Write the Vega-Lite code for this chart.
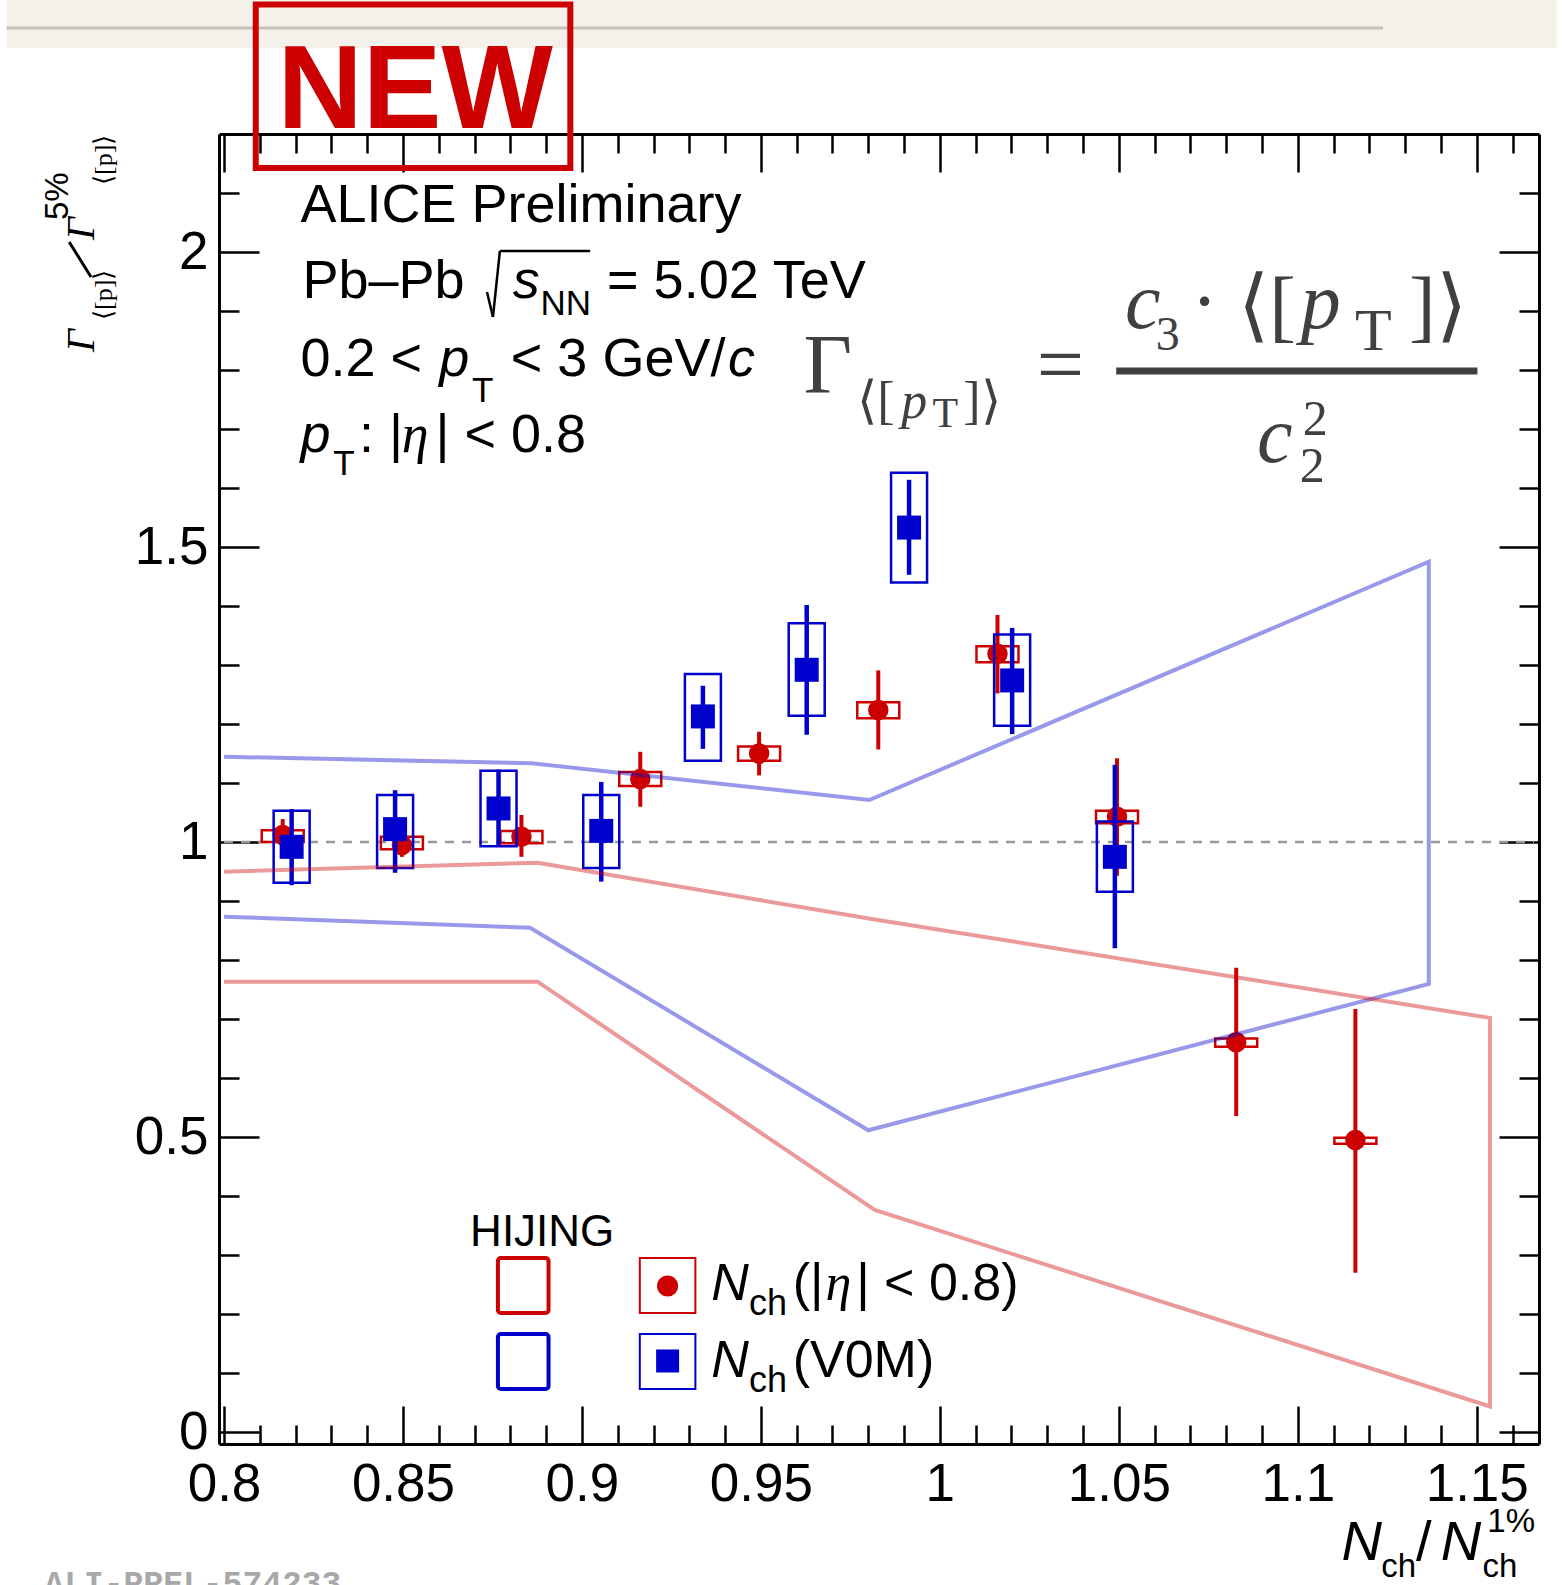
{
"$schema":"https://vega.github.io/schema/vega-lite/v6.json",
"width":1320,"height":1310,
"autosize":{"type":"none"},
"padding":{"left":219,"top":134,"right":23,"bottom":141},
"background":"#ffffff",
"config":{"view":{"stroke":null},"text":{"baseline":"alphabetic"}},
"data":{"values":[{}]},
"datasets":{
"pts":[
{"series":"eta","x":0.8164,"y":1.012,"stat_lo":0.985,"stat_hi":1.039,"sys_lo":1.000,"sys_hi":1.020},
{"series":"eta","x":0.8497,"y":0.995,"stat_lo":0.975,"stat_hi":1.015,"sys_lo":0.988,"sys_hi":1.009},
{"series":"eta","x":0.8831,"y":1.009,"stat_lo":0.975,"stat_hi":1.046,"sys_lo":0.998,"sys_hi":1.019},
{"series":"eta","x":0.9163,"y":1.107,"stat_lo":1.060,"stat_hi":1.153,"sys_lo":1.095,"sys_hi":1.119},
{"series":"eta","x":0.9495,"y":1.150,"stat_lo":1.113,"stat_hi":1.187,"sys_lo":1.138,"sys_hi":1.162},
{"series":"eta","x":0.9828,"y":1.224,"stat_lo":1.157,"stat_hi":1.291,"sys_lo":1.210,"sys_hi":1.237},
{"series":"eta","x":1.0161,"y":1.319,"stat_lo":1.252,"stat_hi":1.385,"sys_lo":1.305,"sys_hi":1.332},
{"series":"eta","x":1.0495,"y":1.043,"stat_lo":0.943,"stat_hi":1.142,"sys_lo":1.032,"sys_hi":1.053},
{"series":"eta","x":1.0828,"y":0.661,"stat_lo":0.536,"stat_hi":0.787,"sys_lo":0.653,"sys_hi":0.667},
{"series":"eta","x":1.1161,"y":0.495,"stat_lo":0.270,"stat_hi":0.717,"sys_lo":0.489,"sys_hi":0.499},
{"series":"v0m","x":0.8189,"y":0.992,"stat_lo":0.927,"stat_hi":1.056,"sys_lo":0.931,"sys_hi":1.053},
{"series":"v0m","x":0.8478,"y":1.022,"stat_lo":0.948,"stat_hi":1.088,"sys_lo":0.956,"sys_hi":1.080},
{"series":"v0m","x":0.8767,"y":1.057,"stat_lo":0.994,"stat_hi":1.123,"sys_lo":0.993,"sys_hi":1.121},
{"series":"v0m","x":0.9054,"y":1.019,"stat_lo":0.933,"stat_hi":1.102,"sys_lo":0.956,"sys_hi":1.080},
{"series":"v0m","x":0.9338,"y":1.213,"stat_lo":1.158,"stat_hi":1.265,"sys_lo":1.138,"sys_hi":1.285},
{"series":"v0m","x":0.9628,"y":1.292,"stat_lo":1.182,"stat_hi":1.402,"sys_lo":1.214,"sys_hi":1.371},
{"series":"v0m","x":0.9914,"y":1.533,"stat_lo":1.453,"stat_hi":1.614,"sys_lo":1.440,"sys_hi":1.626},
{"series":"v0m","x":1.0202,"y":1.274,"stat_lo":1.183,"stat_hi":1.363,"sys_lo":1.197,"sys_hi":1.352},
{"series":"v0m","x":1.0489,"y":0.975,"stat_lo":0.820,"stat_hi":1.131,"sys_lo":0.916,"sys_hi":1.035}
],
"bands":[
{"band":"blue","ord":0,"x":0.8,"y":1.1447},
{"band":"blue","ord":1,"x":0.886,"y":1.1335},
{"band":"blue","ord":2,"x":0.9803,"y":1.0714},
{"band":"blue","ord":3,"x":1.1366,"y":1.4752},
{"band":"blue","ord":4,"x":1.1366,"y":0.7596},
{"band":"blue","ord":5,"x":0.98,"y":0.5116},
{"band":"blue","ord":6,"x":0.8855,"y":0.855},
{"band":"blue","ord":7,"x":0.8,"y":0.8736},
{"band":"red","ord":0,"x":0.8,"y":0.9499},
{"band":"red","ord":1,"x":0.8876,"y":0.9651},
{"band":"red","ord":2,"x":0.9818,"y":0.869},
{"band":"red","ord":3,"x":1.1537,"y":0.7021},
{"band":"red","ord":4,"x":1.1537,"y":0.0436},
{"band":"red","ord":5,"x":0.9818,"y":0.3766},
{"band":"red","ord":6,"x":0.8876,"y":0.7635},
{"band":"red","ord":7,"x":0.8,"y":0.7635}
]
},
"resolve":{"axis":{"x":"independent","y":"independent"}},
"layer":[
{"mark":{"type":"rect","color":"#f4f1eb"},
 "encoding":{"x":{"datum":0.73928,"type":"quantitative","scale":{"domain":[0.8,1.166],"nice":false,"zero":false},"axis":null},"x2":{"datum":1.17237},"y":{"datum":2.427,"type":"quantitative","scale":{"domain":[-0.02,2.2],"nice":false,"zero":false},"axis":null},"y2":{"datum":2.3457}}},
{"mark":{"type":"rule","color":"#c4c1bb","strokeWidth":3},
 "encoding":{"x":{"datum":0.73928,"type":"quantitative","scale":{"domain":[0.8,1.166],"nice":false,"zero":false},"axis":null},"x2":{"datum":1.12385},"y":{"datum":2.3796,"type":"quantitative","scale":{"domain":[-0.02,2.2],"nice":false,"zero":false},"axis":null}}},
{"mark":{"type":"rule","color":"#999999","strokeWidth":2.5,"strokeDash":[9,8]},
 "encoding":{"x":{"datum":0.8,"type":"quantitative","scale":{"domain":[0.8,1.166],"nice":false,"zero":false},"axis":null},"x2":{"datum":1.166},"y":{"datum":1,"type":"quantitative","scale":{"domain":[-0.02,2.2],"nice":false,"zero":false},"axis":null}}},
{"data":{"name":"pts"},"transform":[{"filter":"datum.series === 'eta'"}],
 "mark":{"type":"bar","filled":false,"color":"#cc0000","strokeWidth":2.5,"width":42,"orient":"vertical"},
 "encoding":{"x":{"field":"x","type":"quantitative","scale":{"domain":[0.8,1.166],"nice":false,"zero":false},
   "axis":{"orient":"bottom","values":[0.81,0.82,0.83,0.84,0.86,0.87,0.88,0.89,0.91,0.92,0.93,0.94,0.96,0.97,0.98,0.99,1.01,1.02,1.03,1.04,1.06,1.07,1.08,1.09,1.11,1.12,1.13,1.14,1.16],"labels":false,"ticks":true,"tickSize":-19,"tickWidth":2.5,"tickColor":"#000000","domain":false,"grid":false,"title":null}},
  "y":{"field":"sys_lo","type":"quantitative","scale":{"domain":[-0.02,2.2],"nice":false,"zero":false},
   "axis":{"orient":"left","values":[0.1,0.2,0.3,0.4,0.6,0.7,0.8,0.9,1.1,1.2,1.3,1.4,1.6,1.7,1.8,1.9,2.1],"labels":false,"ticks":true,"tickSize":-20,"tickWidth":2.5,"tickColor":"#000000","domain":false,"grid":false,"title":null}},
  "y2":{"field":"sys_hi"}}},
{"data":{"name":"pts"},"transform":[{"filter":"datum.series === 'eta'"}],
 "mark":{"type":"rule","color":"#cc0000","strokeWidth":4},
 "encoding":{"x":{"field":"x","type":"quantitative","scale":{"domain":[0.8,1.166],"nice":false,"zero":false},
   "axis":{"orient":"top","values":[0.8,0.85,0.9,0.95,1,1.05,1.1,1.15],"labels":false,"ticks":true,"tickSize":-38,"tickWidth":2.5,"tickColor":"#000000","domain":true,"domainColor":"#000000","domainWidth":3,"grid":false,"title":null}},
  "y":{"field":"stat_lo","type":"quantitative","scale":{"domain":[-0.02,2.2],"nice":false,"zero":false},
   "axis":{"orient":"right","values":[0,0.5,1,1.5,2],"labels":false,"ticks":true,"tickSize":-40,"tickWidth":2.5,"tickColor":"#000000","domain":true,"domainColor":"#000000","domainWidth":3,"grid":false,"title":null}},
  "y2":{"field":"stat_hi"}}},
{"data":{"name":"pts"},"transform":[{"filter":"datum.series === 'eta'"}],
 "mark":{"type":"point","shape":"circle","filled":true,"color":"#cc0000","size":420,"opacity":1},
 "encoding":{"x":{"field":"x","type":"quantitative","scale":{"domain":[0.8,1.166],"nice":false,"zero":false},"axis":null},
  "y":{"field":"y","type":"quantitative","scale":{"domain":[-0.02,2.2],"nice":false,"zero":false},"axis":null}}},
{"data":{"name":"pts"},"transform":[{"filter":"datum.series === 'v0m'"}],
 "mark":{"type":"bar","filled":false,"color":"#0000cc","strokeWidth":2.5,"width":36,"orient":"vertical"},
 "encoding":{"x":{"field":"x","type":"quantitative","scale":{"domain":[0.8,1.166],"nice":false,"zero":false},
   "axis":{"orient":"top","values":[0.81,0.82,0.83,0.84,0.86,0.87,0.88,0.89,0.91,0.92,0.93,0.94,0.96,0.97,0.98,0.99,1.01,1.02,1.03,1.04,1.06,1.07,1.08,1.09,1.11,1.12,1.13,1.14,1.16],"labels":false,"ticks":true,"tickSize":-19,"tickWidth":2.5,"tickColor":"#000000","domain":false,"grid":false,"title":null}},
  "y":{"field":"sys_lo","type":"quantitative","scale":{"domain":[-0.02,2.2],"nice":false,"zero":false},
   "axis":{"orient":"right","values":[0.1,0.2,0.3,0.4,0.6,0.7,0.8,0.9,1.1,1.2,1.3,1.4,1.6,1.7,1.8,1.9,2.1],"labels":false,"ticks":true,"tickSize":-20,"tickWidth":2.5,"tickColor":"#000000","domain":false,"grid":false,"title":null}},
  "y2":{"field":"sys_hi"}}},
{"data":{"name":"pts"},"transform":[{"filter":"datum.series === 'v0m'"}],
 "mark":{"type":"rule","color":"#0000cc","strokeWidth":4.5},
 "encoding":{"x":{"field":"x","type":"quantitative","scale":{"domain":[0.8,1.166],"nice":false,"zero":false},"axis":null},
  "y":{"field":"stat_lo","type":"quantitative","scale":{"domain":[-0.02,2.2],"nice":false,"zero":false},"axis":null},
  "y2":{"field":"stat_hi"}}},
{"data":{"name":"pts"},"transform":[{"filter":"datum.series === 'v0m'"}],
 "mark":{"type":"point","shape":"square","filled":true,"color":"#0000cc","size":576,"opacity":1},
 "encoding":{"x":{"field":"x","type":"quantitative","scale":{"domain":[0.8,1.166],"nice":false,"zero":false},"axis":null},
  "y":{"field":"y","type":"quantitative","scale":{"domain":[-0.02,2.2],"nice":false,"zero":false},"axis":null}}},
{"data":{"name":"bands"},"transform":[{"filter":"datum.band === 'blue'"}],
 "mark":{"type":"line","color":"#0000cc","strokeWidth":4,"opacity":0.4},
 "encoding":{"x":{"field":"x","type":"quantitative","scale":{"domain":[0.8,1.166],"nice":false,"zero":false},
   "axis":{"orient":"bottom","values":[0.8,0.85,0.9,0.95,1,1.05,1.1,1.15],"format":".3~f","ticks":false,"grid":false,"title":null,"domain":true,"domainColor":"#000000","domainWidth":3,"labelFont":"Liberation Sans","labelFontSize":53,"labelColor":"#000000","labelPadding":14,"labelFlush":false,"labelOverlap":false}},
  "y":{"field":"y","type":"quantitative","scale":{"domain":[-0.02,2.2],"nice":false,"zero":false},
   "axis":{"orient":"left","values":[0,0.5,1,1.5,2],"format":".1~f","ticks":false,"grid":false,"title":null,"domain":true,"domainColor":"#000000","domainWidth":3,"labelFont":"Liberation Sans","labelFontSize":53,"labelColor":"#000000","labelPadding":11,"labelFlush":false,"labelOverlap":false}},
  "order":{"field":"ord","type":"quantitative"}}},
{"data":{"name":"bands"},"transform":[{"filter":"datum.band === 'red'"}],
 "mark":{"type":"line","color":"#cc0000","strokeWidth":4,"opacity":0.4},
 "encoding":{"x":{"field":"x","type":"quantitative","scale":{"domain":[0.8,1.166],"nice":false,"zero":false},
   "axis":{"orient":"bottom","values":[0.8,0.85,0.9,0.95,1,1.05,1.1,1.15],"labels":false,"ticks":true,"tickSize":-38,"tickWidth":2.5,"tickColor":"#000000","domain":false,"grid":false,"title":null}},
  "y":{"field":"y","type":"quantitative","scale":{"domain":[-0.02,2.2],"nice":false,"zero":false},
   "axis":{"orient":"left","values":[0,0.5,1,1.5,2],"labels":false,"ticks":true,"tickSize":-40,"tickWidth":2.5,"tickColor":"#000000","domain":false,"grid":false,"title":null}},
  "order":{"field":"ord","type":"quantitative"}}},
{"mark":{"type":"text","text":"NEW","font":"Liberation Sans","fontWeight":"bold","fontSize":118,"align":"center","baseline":"alphabetic","color":"#cc0000"},
 "encoding":{"x":{"datum":0.8534,"type":"quantitative","scale":{"domain":[0.8,1.166],"nice":false,"zero":false},"axis":null},"y":{"datum":2.2102,"type":"quantitative","scale":{"domain":[-0.02,2.2],"nice":false,"zero":false},"axis":null}}},
{"mark":{"type":"rect","filled":false,"color":"#cc0000","strokeWidth":6},
 "encoding":{"x":{"datum":0.80887,"type":"quantitative","scale":{"domain":[0.8,1.166],"nice":false,"zero":false},"axis":null},"x2":{"datum":0.89676},"y":{"datum":2.4196,"type":"quantitative","scale":{"domain":[-0.02,2.2],"nice":false,"zero":false},"axis":null},"y2":{"datum":2.1424}}},
{"mark":{"type":"text","text":"ALICE Preliminary","font":"Liberation Sans","fontSize":54,"align":"left","baseline":"alphabetic","color":"#000000"},
 "encoding":{"x":{"datum":0.82135,"type":"quantitative","scale":{"domain":[0.8,1.166],"nice":false,"zero":false},"axis":null},"y":{"datum":2.05087,"type":"quantitative","scale":{"domain":[-0.02,2.2],"nice":false,"zero":false},"axis":null}}},
{"mark":{"type":"text","text":"Pb–Pb","font":"Liberation Sans","fontSize":54,"align":"left","baseline":"alphabetic","color":"#000000"},
 "encoding":{"x":{"datum":0.8219,"type":"quantitative","scale":{"domain":[0.8,1.166],"nice":false,"zero":false},"axis":null},"y":{"datum":1.92208,"type":"quantitative","scale":{"domain":[-0.02,2.2],"nice":false,"zero":false},"axis":null}}},
{"mark":{"type":"rule","color":"#000000","strokeWidth":2.5},
 "encoding":{"x":{"datum":0.87348,"type":"quantitative","scale":{"domain":[0.8,1.166],"nice":false,"zero":false},"axis":null},"x2":{"datum":0.87514},"y":{"datum":1.93224,"type":"quantitative","scale":{"domain":[-0.02,2.2],"nice":false,"zero":false},"axis":null},"y2":{"datum":1.88988}}},
{"mark":{"type":"rule","color":"#000000","strokeWidth":2.5},
 "encoding":{"x":{"datum":0.87514,"type":"quantitative","scale":{"domain":[0.8,1.166],"nice":false,"zero":false},"axis":null},"x2":{"datum":0.87708},"y":{"datum":1.88988,"type":"quantitative","scale":{"domain":[-0.02,2.2],"nice":false,"zero":false},"axis":null},"y2":{"datum":2.00173}}},
{"mark":{"type":"rule","color":"#000000","strokeWidth":2.5},
 "encoding":{"x":{"datum":0.87708,"type":"quantitative","scale":{"domain":[0.8,1.166],"nice":false,"zero":false},"axis":null},"x2":{"datum":0.90231},"y":{"datum":2.00173,"type":"quantitative","scale":{"domain":[-0.02,2.2],"nice":false,"zero":false},"axis":null}}},
{"mark":{"type":"text","text":"s","font":"Liberation Sans","fontStyle":"italic","fontSize":54,"align":"left","baseline":"alphabetic","color":"#000000"},
 "encoding":{"x":{"datum":0.88069,"type":"quantitative","scale":{"domain":[0.8,1.166],"nice":false,"zero":false},"axis":null},"y":{"datum":1.92208,"type":"quantitative","scale":{"domain":[-0.02,2.2],"nice":false,"zero":false},"axis":null}}},
{"mark":{"type":"text","text":"NN","font":"Liberation Sans","fontSize":35,"align":"left","baseline":"alphabetic","color":"#000000"},
 "encoding":{"x":{"datum":0.88845,"type":"quantitative","scale":{"domain":[0.8,1.166],"nice":false,"zero":false},"axis":null},"y":{"datum":1.89327,"type":"quantitative","scale":{"domain":[-0.02,2.2],"nice":false,"zero":false},"axis":null}}},
{"mark":{"type":"text","text":"= 5.02 TeV","font":"Liberation Sans","fontSize":54,"align":"left","baseline":"alphabetic","color":"#000000"},
 "encoding":{"x":{"datum":0.90703,"type":"quantitative","scale":{"domain":[0.8,1.166],"nice":false,"zero":false},"axis":null},"y":{"datum":1.92208,"type":"quantitative","scale":{"domain":[-0.02,2.2],"nice":false,"zero":false},"axis":null}}},
{"mark":{"type":"text","text":"0.2 <","font":"Liberation Sans","fontSize":54,"align":"left","baseline":"alphabetic","color":"#000000"},
 "encoding":{"x":{"datum":0.82135,"type":"quantitative","scale":{"domain":[0.8,1.166],"nice":false,"zero":false},"axis":null},"y":{"datum":1.78989,"type":"quantitative","scale":{"domain":[-0.02,2.2],"nice":false,"zero":false},"axis":null}}},
{"mark":{"type":"text","text":"p","font":"Liberation Sans","fontStyle":"italic","fontSize":54,"align":"left","baseline":"alphabetic","color":"#000000"},
 "encoding":{"x":{"datum":0.86017,"type":"quantitative","scale":{"domain":[0.8,1.166],"nice":false,"zero":false},"axis":null},"y":{"datum":1.78989,"type":"quantitative","scale":{"domain":[-0.02,2.2],"nice":false,"zero":false},"axis":null}}},
{"mark":{"type":"text","text":"T","font":"Liberation Sans","fontSize":35,"align":"left","baseline":"alphabetic","color":"#000000"},
 "encoding":{"x":{"datum":0.86932,"type":"quantitative","scale":{"domain":[0.8,1.166],"nice":false,"zero":false},"axis":null},"y":{"datum":1.74583,"type":"quantitative","scale":{"domain":[-0.02,2.2],"nice":false,"zero":false},"axis":null}}},
{"mark":{"type":"text","text":"< 3 GeV/","font":"Liberation Sans","fontSize":54,"align":"left","baseline":"alphabetic","color":"#000000"},
 "encoding":{"x":{"datum":0.88013,"type":"quantitative","scale":{"domain":[0.8,1.166],"nice":false,"zero":false},"axis":null},"y":{"datum":1.78989,"type":"quantitative","scale":{"domain":[-0.02,2.2],"nice":false,"zero":false},"axis":null}}},
{"mark":{"type":"text","text":"c","font":"Liberation Sans","fontStyle":"italic","fontSize":54,"align":"left","baseline":"alphabetic","color":"#000000"},
 "encoding":{"x":{"datum":0.9408,"type":"quantitative","scale":{"domain":[0.8,1.166],"nice":false,"zero":false},"axis":null},"y":{"datum":1.78989,"type":"quantitative","scale":{"domain":[-0.02,2.2],"nice":false,"zero":false},"axis":null}}},
{"mark":{"type":"text","text":"p","font":"Liberation Sans","fontStyle":"italic","fontSize":54,"align":"left","baseline":"alphabetic","color":"#000000"},
 "encoding":{"x":{"datum":0.82135,"type":"quantitative","scale":{"domain":[0.8,1.166],"nice":false,"zero":false},"axis":null},"y":{"datum":1.6611,"type":"quantitative","scale":{"domain":[-0.02,2.2],"nice":false,"zero":false},"axis":null}}},
{"mark":{"type":"text","text":"T","font":"Liberation Sans","fontSize":35,"align":"left","baseline":"alphabetic","color":"#000000"},
 "encoding":{"x":{"datum":0.8305,"type":"quantitative","scale":{"domain":[0.8,1.166],"nice":false,"zero":false},"axis":null},"y":{"datum":1.62212,"type":"quantitative","scale":{"domain":[-0.02,2.2],"nice":false,"zero":false},"axis":null}}},
{"mark":{"type":"text","text":": |","font":"Liberation Sans","fontSize":54,"align":"left","baseline":"alphabetic","color":"#000000"},
 "encoding":{"x":{"datum":0.83771,"type":"quantitative","scale":{"domain":[0.8,1.166],"nice":false,"zero":false},"axis":null},"y":{"datum":1.6611,"type":"quantitative","scale":{"domain":[-0.02,2.2],"nice":false,"zero":false},"axis":null}}},
{"mark":{"type":"text","text":"η","font":"Liberation Serif","fontStyle":"italic","fontSize":54,"align":"left","baseline":"alphabetic","color":"#000000"},
 "encoding":{"x":{"datum":0.84963,"type":"quantitative","scale":{"domain":[0.8,1.166],"nice":false,"zero":false},"axis":null},"y":{"datum":1.6611,"type":"quantitative","scale":{"domain":[-0.02,2.2],"nice":false,"zero":false},"axis":null}}},
{"mark":{"type":"text","text":"| < 0.8","font":"Liberation Sans","fontSize":54,"align":"left","baseline":"alphabetic","color":"#000000"},
 "encoding":{"x":{"datum":0.85906,"type":"quantitative","scale":{"domain":[0.8,1.166],"nice":false,"zero":false},"axis":null},"y":{"datum":1.6611,"type":"quantitative","scale":{"domain":[-0.02,2.2],"nice":false,"zero":false},"axis":null}}},
{"mark":{"type":"text","text":"Γ","font":"Liberation Serif","fontSize":84,"align":"left","baseline":"alphabetic","color":"#404040"},
 "encoding":{"x":{"datum":0.96193,"type":"quantitative","scale":{"domain":[0.8,1.166],"nice":false,"zero":false},"axis":null},"y":{"datum":1.76108,"type":"quantitative","scale":{"domain":[-0.02,2.2],"nice":false,"zero":false},"axis":null}}},
{"mark":{"type":"text","text":"⟨[","font":"Liberation Serif","fontSize":52,"align":"left","baseline":"alphabetic","color":"#404040"},
 "encoding":{"x":{"datum":0.9769,"type":"quantitative","scale":{"domain":[0.8,1.166],"nice":false,"zero":false},"axis":null},"y":{"datum":1.71872,"type":"quantitative","scale":{"domain":[-0.02,2.2],"nice":false,"zero":false},"axis":null}}},
{"mark":{"type":"text","text":"p","font":"Liberation Serif","fontStyle":"italic","fontSize":52,"align":"left","baseline":"alphabetic","color":"#404040"},
 "encoding":{"x":{"datum":0.9892,"type":"quantitative","scale":{"domain":[0.8,1.166],"nice":false,"zero":false},"axis":null},"y":{"datum":1.71872,"type":"quantitative","scale":{"domain":[-0.02,2.2],"nice":false,"zero":false},"axis":null}}},
{"mark":{"type":"text","text":"T","font":"Liberation Serif","fontSize":42,"align":"left","baseline":"alphabetic","color":"#404040"},
 "encoding":{"x":{"datum":0.99797,"type":"quantitative","scale":{"domain":[0.8,1.166],"nice":false,"zero":false},"axis":null},"y":{"datum":1.70347,"type":"quantitative","scale":{"domain":[-0.02,2.2],"nice":false,"zero":false},"axis":null}}},
{"mark":{"type":"text","text":"]⟩","font":"Liberation Serif","fontSize":52,"align":"left","baseline":"alphabetic","color":"#404040"},
 "encoding":{"x":{"datum":1.00656,"type":"quantitative","scale":{"domain":[0.8,1.166],"nice":false,"zero":false},"axis":null},"y":{"datum":1.71872,"type":"quantitative","scale":{"domain":[-0.02,2.2],"nice":false,"zero":false},"axis":null}}},
{"mark":{"type":"text","text":"=","font":"Liberation Serif","fontSize":84,"align":"left","baseline":"alphabetic","color":"#404040"},
 "encoding":{"x":{"datum":1.02708,"type":"quantitative","scale":{"domain":[0.8,1.166],"nice":false,"zero":false},"axis":null},"y":{"datum":1.76108,"type":"quantitative","scale":{"domain":[-0.02,2.2],"nice":false,"zero":false},"axis":null}}},
{"mark":{"type":"rule","color":"#404040","strokeWidth":7},
 "encoding":{"x":{"datum":1.04927,"type":"quantitative","scale":{"domain":[0.8,1.166],"nice":false,"zero":false},"axis":null},"x2":{"datum":1.15019},"y":{"datum":1.79837,"type":"quantitative","scale":{"domain":[-0.02,2.2],"nice":false,"zero":false},"axis":null}}},
{"mark":{"type":"text","text":"c","font":"Liberation Serif","fontStyle":"italic","fontSize":80,"align":"left","baseline":"alphabetic","color":"#404040"},
 "encoding":{"x":{"datum":1.05176,"type":"quantitative","scale":{"domain":[0.8,1.166],"nice":false,"zero":false},"axis":null},"y":{"datum":1.87124,"type":"quantitative","scale":{"domain":[-0.02,2.2],"nice":false,"zero":false},"axis":null}}},
{"mark":{"type":"text","text":"3","font":"Liberation Serif","fontSize":48,"align":"left","baseline":"alphabetic","color":"#404040"},
 "encoding":{"x":{"datum":1.06035,"type":"quantitative","scale":{"domain":[0.8,1.166],"nice":false,"zero":false},"axis":null},"y":{"datum":1.83396,"type":"quantitative","scale":{"domain":[-0.02,2.2],"nice":false,"zero":false},"axis":null}}},
{"mark":{"type":"text","text":"·","font":"Liberation Serif","fontSize":80,"align":"center","baseline":"alphabetic","color":"#404040"},
 "encoding":{"x":{"datum":1.07394,"type":"quantitative","scale":{"domain":[0.8,1.166],"nice":false,"zero":false},"axis":null},"y":{"datum":1.87124,"type":"quantitative","scale":{"domain":[-0.02,2.2],"nice":false,"zero":false},"axis":null}}},
{"mark":{"type":"text","text":"⟨[","font":"Liberation Serif","fontSize":80,"align":"left","baseline":"alphabetic","color":"#404040"},
 "encoding":{"x":{"datum":1.08337,"type":"quantitative","scale":{"domain":[0.8,1.166],"nice":false,"zero":false},"axis":null},"y":{"datum":1.86446,"type":"quantitative","scale":{"domain":[-0.02,2.2],"nice":false,"zero":false},"axis":null}}},
{"mark":{"type":"text","text":"p","font":"Liberation Serif","fontStyle":"italic","fontSize":80,"align":"left","baseline":"alphabetic","color":"#404040"},
 "encoding":{"x":{"datum":1.10083,"type":"quantitative","scale":{"domain":[0.8,1.166],"nice":false,"zero":false},"axis":null},"y":{"datum":1.87124,"type":"quantitative","scale":{"domain":[-0.02,2.2],"nice":false,"zero":false},"axis":null}}},
{"mark":{"type":"text","text":"T","font":"Liberation Serif","fontSize":60,"align":"left","baseline":"alphabetic","color":"#404040"},
 "encoding":{"x":{"datum":1.11602,"type":"quantitative","scale":{"domain":[0.8,1.166],"nice":false,"zero":false},"axis":null},"y":{"datum":1.83396,"type":"quantitative","scale":{"domain":[-0.02,2.2],"nice":false,"zero":false},"axis":null}}},
{"mark":{"type":"text","text":"]⟩","font":"Liberation Serif","fontSize":80,"align":"left","baseline":"alphabetic","color":"#404040"},
 "encoding":{"x":{"datum":1.13106,"type":"quantitative","scale":{"domain":[0.8,1.166],"nice":false,"zero":false},"axis":null},"y":{"datum":1.86446,"type":"quantitative","scale":{"domain":[-0.02,2.2],"nice":false,"zero":false},"axis":null}}},
{"mark":{"type":"text","text":"c","font":"Liberation Serif","fontStyle":"italic","fontSize":80,"align":"left","baseline":"alphabetic","color":"#404040"},
 "encoding":{"x":{"datum":1.08864,"type":"quantitative","scale":{"domain":[0.8,1.166],"nice":false,"zero":false},"axis":null},"y":{"datum":1.64416,"type":"quantitative","scale":{"domain":[-0.02,2.2],"nice":false,"zero":false},"axis":null}}},
{"mark":{"type":"text","text":"2","font":"Liberation Serif","fontSize":50,"align":"left","baseline":"alphabetic","color":"#404040"},
 "encoding":{"x":{"datum":1.10139,"type":"quantitative","scale":{"domain":[0.8,1.166],"nice":false,"zero":false},"axis":null},"y":{"datum":1.68992,"type":"quantitative","scale":{"domain":[-0.02,2.2],"nice":false,"zero":false},"axis":null}}},
{"mark":{"type":"text","text":"2","font":"Liberation Serif","fontSize":50,"align":"left","baseline":"alphabetic","color":"#404040"},
 "encoding":{"x":{"datum":1.10056,"type":"quantitative","scale":{"domain":[0.8,1.166],"nice":false,"zero":false},"axis":null},"y":{"datum":1.61025,"type":"quantitative","scale":{"domain":[-0.02,2.2],"nice":false,"zero":false},"axis":null}}},
{"mark":{"type":"text","text":"Γ","font":"Liberation Serif","fontStyle":"italic","fontSize":40,"angle":270,"align":"left","baseline":"alphabetic","color":"#000000"},
 "encoding":{"x":{"datum":0.76368,"type":"quantitative","scale":{"domain":[0.8,1.166],"nice":false,"zero":false},"axis":null},"y":{"datum":1.83056,"type":"quantitative","scale":{"domain":[-0.02,2.2],"nice":false,"zero":false},"axis":null}}},
{"mark":{"type":"text","text":"⟨[p]⟩","font":"Liberation Serif","fontSize":26,"angle":270,"align":"left","baseline":"alphabetic","color":"#000000"},
 "encoding":{"x":{"datum":0.76867,"type":"quantitative","scale":{"domain":[0.8,1.166],"nice":false,"zero":false},"axis":null},"y":{"datum":1.88479,"type":"quantitative","scale":{"domain":[-0.02,2.2],"nice":false,"zero":false},"axis":null}}},
{"mark":{"type":"rule","color":"#000000","strokeWidth":3},
 "encoding":{"x":{"datum":0.76285,"type":"quantitative","scale":{"domain":[0.8,1.166],"nice":false,"zero":false},"axis":null},"x2":{"datum":0.75675},"y":{"datum":1.95766,"type":"quantitative","scale":{"domain":[-0.02,2.2],"nice":false,"zero":false},"axis":null},"y2":{"datum":2.01698}}},
{"mark":{"type":"text","text":"Γ","font":"Liberation Serif","fontStyle":"italic","fontSize":40,"angle":270,"align":"left","baseline":"alphabetic","color":"#000000"},
 "encoding":{"x":{"datum":0.76368,"type":"quantitative","scale":{"domain":[0.8,1.166],"nice":false,"zero":false},"axis":null},"y":{"datum":2.02037,"type":"quantitative","scale":{"domain":[-0.02,2.2],"nice":false,"zero":false},"axis":null}}},
{"mark":{"type":"text","text":"5%","font":"Liberation Sans","fontSize":33,"angle":270,"align":"left","baseline":"alphabetic","color":"#000000"},
 "encoding":{"x":{"datum":0.75647,"type":"quantitative","scale":{"domain":[0.8,1.166],"nice":false,"zero":false},"axis":null},"y":{"datum":2.05426,"type":"quantitative","scale":{"domain":[-0.02,2.2],"nice":false,"zero":false},"axis":null}}},
{"mark":{"type":"text","text":"⟨[p]⟩","font":"Liberation Serif","fontSize":26,"angle":270,"align":"left","baseline":"alphabetic","color":"#000000"},
 "encoding":{"x":{"datum":0.76867,"type":"quantitative","scale":{"domain":[0.8,1.166],"nice":false,"zero":false},"axis":null},"y":{"datum":2.11357,"type":"quantitative","scale":{"domain":[-0.02,2.2],"nice":false,"zero":false},"axis":null}}},
{"mark":{"type":"text","text":"N","font":"Liberation Sans","fontStyle":"italic","fontSize":56,"align":"left","baseline":"alphabetic","color":"#000000"},
 "encoding":{"x":{"datum":1.11221,"type":"quantitative","scale":{"domain":[0.8,1.166],"nice":false,"zero":false},"axis":null},"y":{"datum":-0.21656,"type":"quantitative","scale":{"domain":[-0.02,2.2],"nice":false,"zero":false},"axis":null}}},
{"mark":{"type":"text","text":"ch","font":"Liberation Sans","fontSize":33,"align":"left","baseline":"alphabetic","color":"#000000"},
 "encoding":{"x":{"datum":1.1233,"type":"quantitative","scale":{"domain":[0.8,1.166],"nice":false,"zero":false},"axis":null},"y":{"datum":-0.24537,"type":"quantitative","scale":{"domain":[-0.02,2.2],"nice":false,"zero":false},"axis":null}}},
{"mark":{"type":"text","text":"/","font":"Liberation Sans","fontSize":56,"align":"left","baseline":"alphabetic","color":"#000000"},
 "encoding":{"x":{"datum":1.133,"type":"quantitative","scale":{"domain":[0.8,1.166],"nice":false,"zero":false},"axis":null},"y":{"datum":-0.21656,"type":"quantitative","scale":{"domain":[-0.02,2.2],"nice":false,"zero":false},"axis":null}}},
{"mark":{"type":"text","text":"N","font":"Liberation Sans","fontStyle":"italic","fontSize":56,"align":"left","baseline":"alphabetic","color":"#000000"},
 "encoding":{"x":{"datum":1.13993,"type":"quantitative","scale":{"domain":[0.8,1.166],"nice":false,"zero":false},"axis":null},"y":{"datum":-0.21656,"type":"quantitative","scale":{"domain":[-0.02,2.2],"nice":false,"zero":false},"axis":null}}},
{"mark":{"type":"text","text":"ch","font":"Liberation Sans","fontSize":33,"align":"left","baseline":"alphabetic","color":"#000000"},
 "encoding":{"x":{"datum":1.15158,"type":"quantitative","scale":{"domain":[0.8,1.166],"nice":false,"zero":false},"axis":null},"y":{"datum":-0.24537,"type":"quantitative","scale":{"domain":[-0.02,2.2],"nice":false,"zero":false},"axis":null}}},
{"mark":{"type":"text","text":"1%","font":"Liberation Sans","fontSize":33,"align":"left","baseline":"alphabetic","color":"#000000"},
 "encoding":{"x":{"datum":1.15296,"type":"quantitative","scale":{"domain":[0.8,1.166],"nice":false,"zero":false},"axis":null},"y":{"datum":-0.16911,"type":"quantitative","scale":{"domain":[-0.02,2.2],"nice":false,"zero":false},"axis":null}}},
{"mark":{"type":"text","text":"HIJING","font":"Liberation Sans","fontSize":44,"align":"left","baseline":"alphabetic","color":"#000000"},
 "encoding":{"x":{"datum":0.86876,"type":"quantitative","scale":{"domain":[0.8,1.166],"nice":false,"zero":false},"axis":null},"y":{"datum":0.31555,"type":"quantitative","scale":{"domain":[-0.02,2.2],"nice":false,"zero":false},"axis":null}}},
{"mark":{"type":"rect","filled":false,"color":"#cc0000","strokeWidth":4,"cornerRadius":3},
 "encoding":{"x":{"datum":0.87653,"type":"quantitative","scale":{"domain":[0.8,1.166],"nice":false,"zero":false},"axis":null},"x2":{"datum":0.89067},"y":{"datum":0.29522,"type":"quantitative","scale":{"domain":[-0.02,2.2],"nice":false,"zero":false},"axis":null},"y2":{"datum":0.20201}}},
{"mark":{"type":"rect","filled":false,"color":"#0000cc","strokeWidth":4,"cornerRadius":3},
 "encoding":{"x":{"datum":0.87653,"type":"quantitative","scale":{"domain":[0.8,1.166],"nice":false,"zero":false},"axis":null},"x2":{"datum":0.89067},"y":{"datum":0.16643,"type":"quantitative","scale":{"domain":[-0.02,2.2],"nice":false,"zero":false},"axis":null},"y2":{"datum":0.07322}}},
{"mark":{"type":"rect","filled":false,"color":"#cc0000","strokeWidth":2},
 "encoding":{"x":{"datum":0.91617,"type":"quantitative","scale":{"domain":[0.8,1.166],"nice":false,"zero":false},"axis":null},"x2":{"datum":0.9317},"y":{"datum":0.29522,"type":"quantitative","scale":{"domain":[-0.02,2.2],"nice":false,"zero":false},"axis":null},"y2":{"datum":0.20201}}},
{"mark":{"type":"rect","filled":false,"color":"#0000cc","strokeWidth":2},
 "encoding":{"x":{"datum":0.91617,"type":"quantitative","scale":{"domain":[0.8,1.166],"nice":false,"zero":false},"axis":null},"x2":{"datum":0.9317},"y":{"datum":0.16643,"type":"quantitative","scale":{"domain":[-0.02,2.2],"nice":false,"zero":false},"axis":null},"y2":{"datum":0.07322}}},
{"mark":{"type":"point","shape":"circle","filled":true,"color":"#cc0000","size":450,"opacity":1},
 "encoding":{"x":{"datum":0.92394,"type":"quantitative","scale":{"domain":[0.8,1.166],"nice":false,"zero":false},"axis":null},"y":{"datum":0.24778,"type":"quantitative","scale":{"domain":[-0.02,2.2],"nice":false,"zero":false},"axis":null}}},
{"mark":{"type":"point","shape":"square","filled":true,"color":"#0000cc","size":529,"opacity":1},
 "encoding":{"x":{"datum":0.92394,"type":"quantitative","scale":{"domain":[0.8,1.166],"nice":false,"zero":false},"axis":null},"y":{"datum":0.12068,"type":"quantitative","scale":{"domain":[-0.02,2.2],"nice":false,"zero":false},"axis":null}}},
{"mark":{"type":"text","text":"N","font":"Liberation Sans","fontStyle":"italic","fontSize":52,"align":"left","baseline":"alphabetic","color":"#000000"},
 "encoding":{"x":{"datum":0.93614,"type":"quantitative","scale":{"domain":[0.8,1.166],"nice":false,"zero":false},"axis":null},"y":{"datum":0.22405,"type":"quantitative","scale":{"domain":[-0.02,2.2],"nice":false,"zero":false},"axis":null}}},
{"mark":{"type":"text","text":"ch","font":"Liberation Sans","fontSize":36,"align":"left","baseline":"alphabetic","color":"#000000"},
 "encoding":{"x":{"datum":0.94668,"type":"quantitative","scale":{"domain":[0.8,1.166],"nice":false,"zero":false},"axis":null},"y":{"datum":0.19863,"type":"quantitative","scale":{"domain":[-0.02,2.2],"nice":false,"zero":false},"axis":null}}},
{"mark":{"type":"text","text":"(|","font":"Liberation Sans","fontSize":52,"align":"left","baseline":"alphabetic","color":"#000000"},
 "encoding":{"x":{"datum":0.95888,"type":"quantitative","scale":{"domain":[0.8,1.166],"nice":false,"zero":false},"axis":null},"y":{"datum":0.22405,"type":"quantitative","scale":{"domain":[-0.02,2.2],"nice":false,"zero":false},"axis":null}}},
{"mark":{"type":"text","text":"η","font":"Liberation Serif","fontStyle":"italic","fontSize":52,"align":"left","baseline":"alphabetic","color":"#000000"},
 "encoding":{"x":{"datum":0.96803,"type":"quantitative","scale":{"domain":[0.8,1.166],"nice":false,"zero":false},"axis":null},"y":{"datum":0.22405,"type":"quantitative","scale":{"domain":[-0.02,2.2],"nice":false,"zero":false},"axis":null}}},
{"mark":{"type":"text","text":"| < 0.8)","font":"Liberation Sans","fontSize":52,"align":"left","baseline":"alphabetic","color":"#000000"},
 "encoding":{"x":{"datum":0.97662,"type":"quantitative","scale":{"domain":[0.8,1.166],"nice":false,"zero":false},"axis":null},"y":{"datum":0.22405,"type":"quantitative","scale":{"domain":[-0.02,2.2],"nice":false,"zero":false},"axis":null}}},
{"mark":{"type":"text","text":"N","font":"Liberation Sans","fontStyle":"italic","fontSize":52,"align":"left","baseline":"alphabetic","color":"#000000"},
 "encoding":{"x":{"datum":0.93614,"type":"quantitative","scale":{"domain":[0.8,1.166],"nice":false,"zero":false},"axis":null},"y":{"datum":0.09354,"type":"quantitative","scale":{"domain":[-0.02,2.2],"nice":false,"zero":false},"axis":null}}},
{"mark":{"type":"text","text":"ch","font":"Liberation Sans","fontSize":36,"align":"left","baseline":"alphabetic","color":"#000000"},
 "encoding":{"x":{"datum":0.94668,"type":"quantitative","scale":{"domain":[0.8,1.166],"nice":false,"zero":false},"axis":null},"y":{"datum":0.06812,"type":"quantitative","scale":{"domain":[-0.02,2.2],"nice":false,"zero":false},"axis":null}}},
{"mark":{"type":"text","text":"(V0M)","font":"Liberation Sans","fontSize":52,"align":"left","baseline":"alphabetic","color":"#000000"},
 "encoding":{"x":{"datum":0.95888,"type":"quantitative","scale":{"domain":[0.8,1.166],"nice":false,"zero":false},"axis":null},"y":{"datum":0.09354,"type":"quantitative","scale":{"domain":[-0.02,2.2],"nice":false,"zero":false},"axis":null}}},
{"mark":{"type":"text","text":"ALI-PREL-574233","font":"Liberation Mono","fontWeight":"bold","fontSize":33,"align":"left","baseline":"alphabetic","color":"#a8a8a8"},
 "encoding":{"x":{"datum":0.74981,"type":"quantitative","scale":{"domain":[0.8,1.166],"nice":false,"zero":false},"axis":null},"y":{"datum":-0.27413,"type":"quantitative","scale":{"domain":[-0.02,2.2],"nice":false,"zero":false},"axis":null}}}
]
}
